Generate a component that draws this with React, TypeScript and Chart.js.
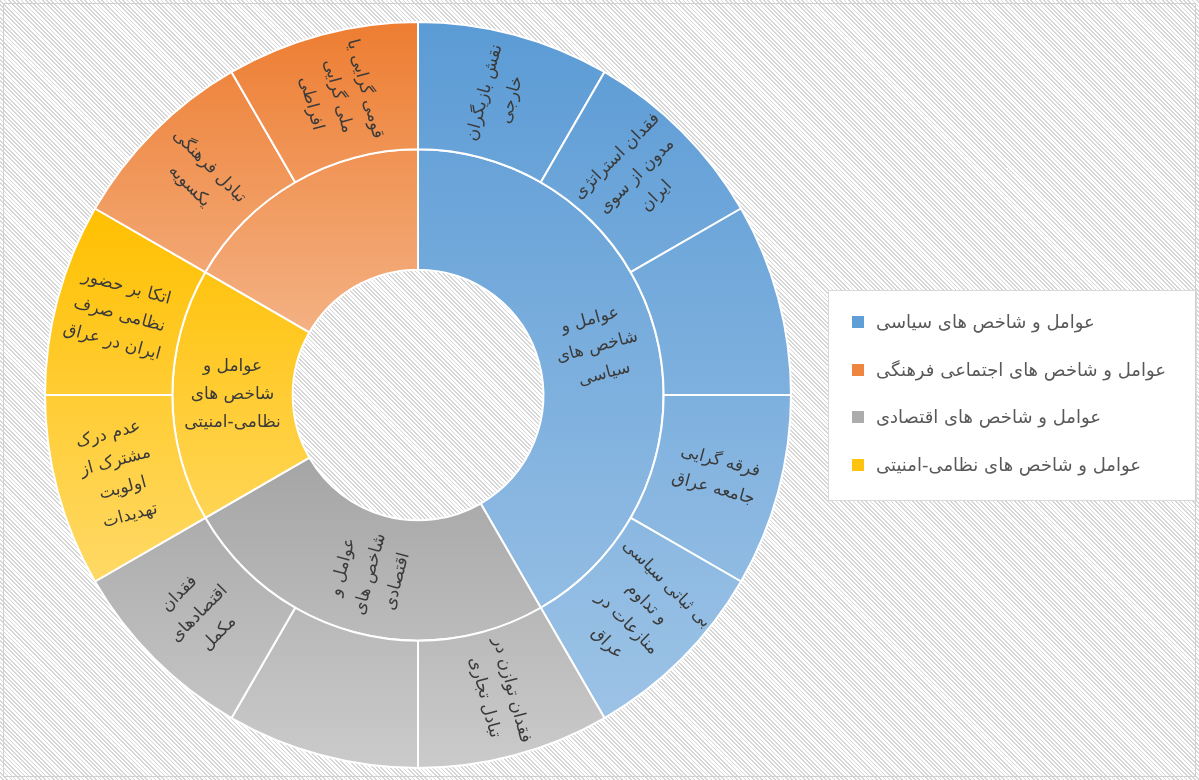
import React, { useEffect, useRef } from 'react';
import { Chart, registerables } from 'chart.js';

Chart.register(...registerables);

// ---- data ----
const groupNames = [
  'عوامل و شاخص های سیاسی',
  'عوامل و شاخص های اقتصادی',
  'عوامل و شاخص های نظامی-امنیتی',
  'عوامل و شاخص های اجتماعی فرهنگی',
];
const groupValues = [5, 3, 2, 2];
const groupLabelLines = [
  ['عوامل و', 'شاخص های', 'سیاسی'],
  ['عوامل و', 'شاخص های', 'اقتصادی'],
  ['عوامل و', 'شاخص های', 'نظامی-امنیتی'],
  [],
];

const leafNames = [
  'نقش بازیگران خارجی',
  'فقدان استراتژی مدون از سوی ایران',
  '',
  'فرقه گرایی جامعه عراق',
  'بی ثباتی سیاسی و تداوم منازعات در عراق',
  'فقدان توازن در تبادل تجاری',
  '',
  'فقدان اقتصادهای مکمل',
  'عدم درک مشترک از اولویت تهدیدات',
  'اتکا بر حضور نظامی صرف ایران در عراق',
  'تبادل فرهنگی یکسویه',
  'قومی گرایی یا ملی گرایی افراطی',
];
const leafValues = [1, 1, 1, 1, 1, 1, 1, 1, 1, 1, 1, 1];
const leafGroups = [0, 0, 0, 0, 0, 1, 1, 1, 2, 2, 3, 3];
const leafLabelLines = [
  ['نقش بازیگران', 'خارجی'],
  ['فقدان استراتژی', 'مدون از سوی', 'ایران'],
  [],
  ['فرقه گرایی', 'جامعه عراق'],
  ['بی ثباتی سیاسی', 'و تداوم', 'منازعات در', 'عراق'],
  ['فقدان توازن در', 'تبادل تجاری'],
  [],
  ['فقدان', 'اقتصادهای', 'مکمل'],
  ['عدم درک', 'مشترک از', 'اولویت', 'تهدیدات'],
  ['اتکا بر حضور', 'نظامی صرف', 'ایران در عراق'],
  ['تبادل فرهنگی', 'یکسویه'],
  ['قومی گرایی یا', 'ملی گرایی', 'افراطی'],
];

const legendOrder = [0, 3, 1, 2];
const groupColorsTop = ['#5B9BD5', '#A5A5A5', '#FFC000', '#ED7D31'];
const groupColorsBottom = ['#9DC3E6', '#CBCBCB', '#FFD966', '#F4B183'];
const legendColors = ['#5F9ED7', '#ACACAC', '#FFC310', '#EE8640'];

// ---- styling constants ----
const CUTOUT = 0.336;
const FONT = '"DejaVu Sans", sans-serif';
const LABEL_SIZE = 17;
const LABEL_LH = 28;

function groupGradient(chart: any, g: number) {
  const area = chart.chartArea;
  if (!area) return groupColorsTop[g];
  const cx = (area.left + area.right) / 2;
  const cy = (area.top + area.bottom) / 2;
  const R = Math.min(area.width, area.height) / 2;
  const r0 = R * CUTOUT;
  const total = groupValues.reduce((a, b) => a + b, 0);
  const before = groupValues.slice(0, g).reduce((a, b) => a + b, 0);
  const a0 = -Math.PI / 2 + (before / total) * Math.PI * 2;
  const a1 = a0 + (groupValues[g] / total) * Math.PI * 2;
  let ymin = Infinity;
  let ymax = -Infinity;
  for (let k = 0; k <= 90; k++) {
    const a = a0 + ((a1 - a0) * k) / 90;
    for (const r of [r0, R]) {
      const y = cy + r * Math.sin(a);
      if (y < ymin) ymin = y;
      if (y > ymax) ymax = y;
    }
  }
  const grad = chart.ctx.createLinearGradient(0, ymin, 0, ymax);
  grad.addColorStop(0, groupColorsTop[g]);
  grad.addColorStop(1, groupColorsBottom[g]);
  return grad;
}

const labelPlugin = {
  id: 'sunburstLabels',
  afterDatasetsDraw(chart: any) {
    const ctx = chart.ctx;
    const sets = [leafLabelLines, groupLabelLines];
    sets.forEach((linesArr, di) => {
      const meta = chart.getDatasetMeta(di);
      meta.data.forEach((arc: any, i: number) => {
        const lines = linesArr[i];
        if (!lines || !lines.length) return;
        const p = arc.getProps(['x', 'y', 'startAngle', 'endAngle', 'innerRadius', 'outerRadius'], true);
        const mid = (p.startAngle + p.endAngle) / 2;
        const r = (p.innerRadius + p.outerRadius) / 2;
        const x = p.x + r * Math.cos(mid);
        const y = p.y + r * Math.sin(mid);
        let rot = mid;
        while (rot > Math.PI / 2 + 1e-6) rot -= Math.PI;
        while (rot <= -Math.PI / 2 + 1e-6) rot += Math.PI;
        ctx.save();
        ctx.translate(x, y);
        ctx.rotate(rot);
        ctx.font = `${LABEL_SIZE}px ${FONT}`;
        ctx.fillStyle = '#3a3a3a';
        ctx.textAlign = 'center';
        ctx.textBaseline = 'middle';
        ctx.direction = 'rtl';
        lines.forEach((ln: string, k: number) => {
          ctx.fillText(ln, 0, (k - (lines.length - 1) / 2) * LABEL_LH);
        });
        ctx.restore();
      });
    });
  },
};

const legendPlugin = {
  id: 'boxLegend',
  afterDraw(chart: any) {
    const ctx = chart.ctx;
    ctx.save();
    // legend box
    ctx.fillStyle = '#ffffff';
    ctx.fillRect(828, 290, 369, 211);
    ctx.strokeStyle = '#d9d9d9';
    ctx.lineWidth = 1;
    ctx.strokeRect(828.5, 290.5, 368, 210);
    const ys = [322, 370, 417, 465];
    legendOrder.forEach((g, k) => {
      ctx.fillStyle = legendColors[g];
      ctx.fillRect(852, ys[k] - 6, 12, 12);
      ctx.fillStyle = '#595959';
      ctx.font = `18px ${FONT}`;
      ctx.textAlign = 'left';
      ctx.textBaseline = 'middle';
      ctx.fillText(groupNames[g], 876, ys[k] + 1);
    });
    // outer frame
    ctx.strokeStyle = '#d0d0d0';
    ctx.strokeRect(3.5, 3.5, 1192, 773);
    ctx.restore();
  },
};

export default function App() {
  const canvasRef = useRef<HTMLCanvasElement | null>(null);

  useEffect(() => {
    if (!canvasRef.current) return;
    const chart = new Chart(canvasRef.current, {
      type: 'doughnut',
      data: {
        labels: leafNames,
        datasets: [
          {
            label: 'leaves',
            data: leafValues,
            weight: 127,
            backgroundColor: (c: any) => groupGradient(c.chart, leafGroups[c.dataIndex]),
            borderColor: '#ffffff',
            borderWidth: 2,
          } as any,
          {
            label: 'groups',
            data: groupValues,
            weight: 120,
            backgroundColor: (c: any) => groupGradient(c.chart, c.dataIndex),
            borderColor: '#ffffff',
            borderWidth: 2,
          } as any,
        ],
      },
      options: {
        animation: false,
        responsive: false,
        maintainAspectRatio: false,
        cutout: `${CUTOUT * 100}%`,
        layout: { padding: { left: 44, right: 407, top: 21, bottom: 11 } },
        plugins: {
          legend: { display: false },
          tooltip: { enabled: false },
        },
      },
      plugins: [labelPlugin, legendPlugin],
    });
    return () => chart.destroy();
  }, []);

  return (
    <div
      style={{
        position: 'fixed',
        left: 0,
        top: 0,
        width: 1199,
        height: 780,
        background:
          'repeating-linear-gradient(45deg, #ffffff 0px, #ffffff 1.8px, #d6d6d6 1.8px, #d6d6d6 3px)',
      }}
    >
      <canvas ref={canvasRef} width={1199} height={780} style={{ display: 'block' }} />
    </div>
  );
}
